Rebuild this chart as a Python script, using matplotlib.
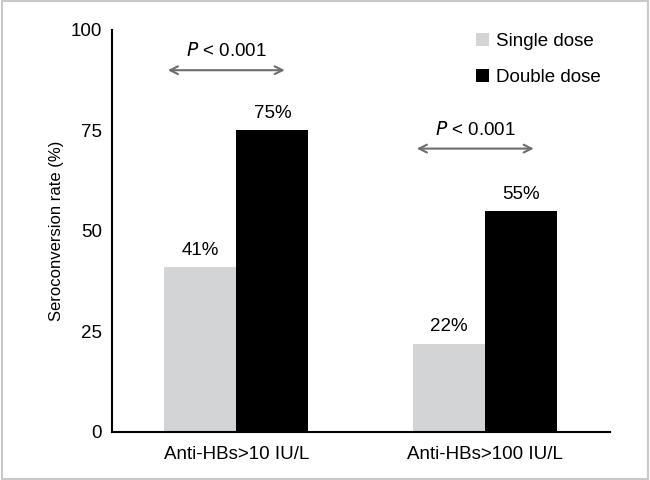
import matplotlib.pyplot as plt
from matplotlib.patches import Rectangle
import numpy as np

plt.rcParams['font.family'] = ['Liberation Sans', 'DejaVu Sans']

categories = ["Anti-HBs>10 IU/L", "Anti-HBs>100 IU/L"]
single_dose = [41, 22]
double_dose = [75, 55]
series_names = ["Single dose", "Double dose"]
p_labels = ["< 0.001", "< 0.001"]

fig = plt.figure(figsize=(6.5, 4.8), dpi=100)
ax = fig.add_axes([0.172, 0.1, 0.766, 0.8375])

x = np.arange(len(categories))
w = 0.29
b1 = ax.bar(x - w/2, single_dose, w, color="#d3d4d6", label=series_names[0])
b2 = ax.bar(x + w/2, double_dose, w, color="black", label=series_names[1])
ax.bar_label(b1, labels=[f"{v}%" for v in single_dose], padding=6, fontsize=13.5)
ax.bar_label(b2, labels=[f"{v}%" for v in double_dose], padding=6, fontsize=13.5)

# significance arrows above each group
arrow_y = [90, 70.5]
for i, (lab, yy) in enumerate(zip(p_labels, arrow_y)):
    ax.annotate("", xy=(x[i] - 0.286, yy), xytext=(x[i] + 0.206, yy),
                arrowprops=dict(arrowstyle="<->", color="#6e6e6e", lw=1.5,
                                mutation_scale=14))
    ax.text(x[i] - 0.04, yy + 2.5, r"$P$ " + lab, ha="center", va="bottom",
            fontsize=13.5)

ax.set_xlim(-0.5, 1.5)
ax.set_ylim(0, 100)
ax.set_yticks([0, 25, 50, 75, 100])
ax.set_xticks(x)
ax.set_xticklabels(categories, fontsize=13.5)
ax.tick_params(axis="x", length=0, labelsize=13.5, pad=10)
ax.tick_params(axis="y", length=0, labelsize=13.5, pad=7)
ax.set_ylabel("Seroconversion rate (%)", fontsize=12, labelpad=5)
for s in ["top", "right"]:
    ax.spines[s].set_visible(False)
ax.spines["left"].set_linewidth(1.5)
ax.spines["bottom"].set_linewidth(1.5)

ax.legend(loc="upper right", frameon=False, fontsize=13.5, handlelength=0.7,
          handleheight=0.7, handletextpad=0.35, labelspacing=1.0,
          bbox_to_anchor=(1.015, 1.035))

fig.patches.append(Rectangle((0.003, 0.003), 0.994, 0.994, transform=fig.transFigure,
                             fill=False, edgecolor="#c8c8c8", lw=1.5))

fig.savefig("out.png", dpi=100)
